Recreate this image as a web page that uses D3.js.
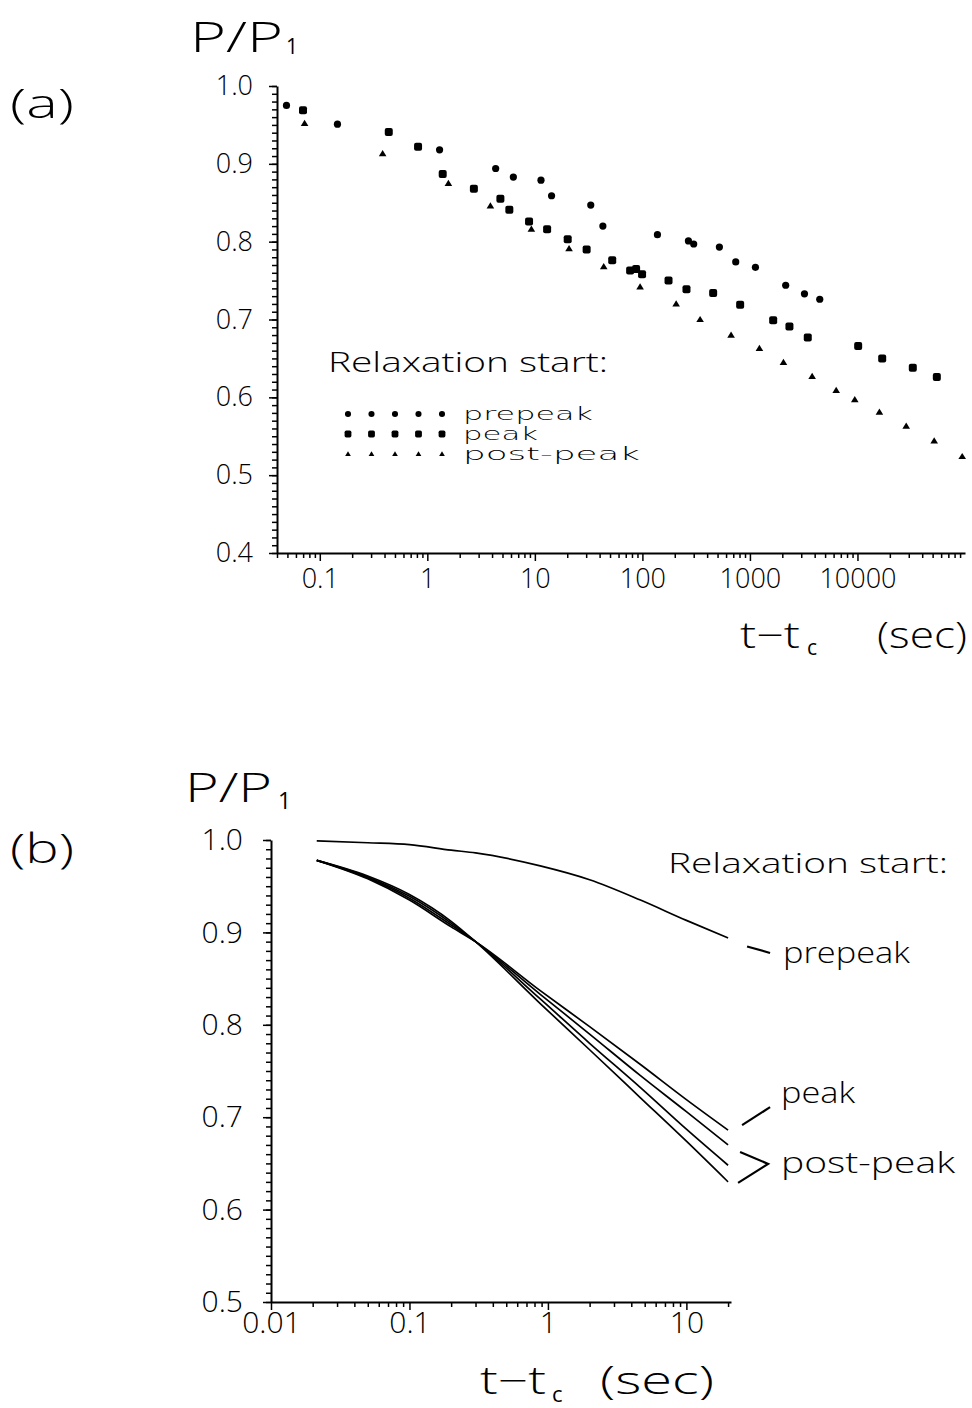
<!DOCTYPE html>
<html>
<head>
<meta charset="utf-8">
<script src="https://cdn.jsdelivr.net/npm/d3@7"></script>
<style>
  body { margin: 0; background: #fff; }
  svg text { font-family: "Open Sans", "DejaVu Sans", sans-serif; font-weight: 300; fill: #000; }
  svg text.sub { font-weight: 400; }
  svg text.legend { font-family: "DejaVu Sans", sans-serif; font-weight: 200; }
</style>
</head>
<body>
<svg id="fig" width="972" height="1408"></svg>
<script>
// ---------- Panel (a): measured stress relaxation, P/P1 vs t - tc (s) ----------
const prepeakTimeA = [0.049, 0.146, 1.30, 4.32, 6.31, 11.4, 14.3, 33.1, 42.9, 138, 268, 300, 520, 738, 1125, 2150, 3215, 4460];
const prepeakRatioA = [0.975, 0.951, 0.918, 0.894, 0.883, 0.879, 0.859, 0.847, 0.820, 0.809, 0.801, 0.797, 0.793, 0.774, 0.767, 0.744, 0.733, 0.726];

const peakTimeA = [0.0698, 0.438, 0.82, 1.39, 2.71, 4.78, 5.79, 8.83, 13.0, 20.2, 30.3, 52.4, 76.9, 87.4, 99.3, 175, 257, 455, 811, 1645, 2330, 3450, 10150, 16980, 32700, 54700];
const peakRatioA = [0.969, 0.941, 0.922, 0.887, 0.868, 0.855, 0.841, 0.826, 0.816, 0.803, 0.790, 0.776, 0.763, 0.765, 0.758, 0.750, 0.739, 0.734, 0.719, 0.699, 0.691, 0.677, 0.666, 0.650, 0.638, 0.626];

const postPeakTimeA = [0.0722, 0.384, 1.57, 3.86, 9.28, 20.8, 43.7, 95.2, 206, 344, 668, 1225, 2050, 3790, 6340, 9440, 16000, 28400, 51700, 94200];
const postPeakRatioA = [0.952, 0.913, 0.875, 0.846, 0.816, 0.791, 0.768, 0.742, 0.720, 0.700, 0.680, 0.663, 0.645, 0.627, 0.609, 0.597, 0.581, 0.563, 0.544, 0.524];

const xTicksA = [0.1, 1, 10, 100, 1000, 10000];
const xTickLabelsA = ["0.1", "1", "10", "100", "1000", "10000"];
const yTicksA = [0.4, 0.5, 0.6, 0.7, 0.8, 0.9, 1.0];
const yTickLabelsA = ["0.4", "0.5", "0.6", "0.7", "0.8", "0.9", "1.0"];

// ---------- Panel (b): model relaxation curves ----------
const modelTime = [0.0214, 0.05, 0.1, 0.2, 0.3, 0.88, 2.0, 4.66, 10, 20];
const modelPrepeak = [0.999, 0.997, 0.995, 0.989, 0.986, 0.972, 0.957, 0.935, 0.913, 0.894];
const modelPeak  = [0.978, 0.958, 0.935, 0.906, 0.890, 0.837, 0.798, 0.757, 0.719, 0.686];
const modelPost1 = [0.978, 0.959, 0.937, 0.908, 0.890, 0.833, 0.790, 0.745, 0.706, 0.670];
const modelPost2 = [0.978, 0.960, 0.939, 0.910, 0.890, 0.828, 0.780, 0.732, 0.687, 0.648];
const modelPost3 = [0.978, 0.961, 0.941, 0.912, 0.890, 0.823, 0.773, 0.721, 0.674, 0.630];

const xTicksB = [0.01, 0.1, 1, 10];
const xTickLabelsB = ["0.01", "0.1", "1", "10"];
const yTicksB = [0.5, 0.6, 0.7, 0.8, 0.9, 1.0];
const yTickLabelsB = ["0.5", "0.6", "0.7", "0.8", "0.9", "1.0"];

const legendNames = ["prepeak", "peak", "post-peak"];

// ---------- helpers ----------
const svg = d3.select("#fig");

function logMinorTicks(domain) {
  const out = [];
  const e0 = Math.floor(Math.log10(domain[0])), e1 = Math.ceil(Math.log10(domain[1]));
  for (let e = e0; e <= e1; e++) {
    for (let m = 2; m <= 9; m++) {
      const v = m * Math.pow(10, e);
      if (v >= domain[0] && v <= domain[1]) out.push(v);
    }
  }
  return out;
}

function styleAxis(g, fontSize) {
  g.attr("font-family", null).attr("font-size", null);
  g.selectAll(".domain").attr("stroke", "#000").attr("stroke-width", 2);
  g.selectAll(".tick line").attr("stroke", "#000").attr("stroke-width", 1.5);
  g.selectAll(".tick text").style("font-size", fontSize + "px").attr("fill", "#000");
}

function drawAxes(x, y, xt, xl, yt, yl, o) {
  const y0 = y.range()[0];
  const x0 = x.range()[0];
  // minor ticks (log decades on x, hundredths on y)
  const gxm = svg.append("g").attr("transform", `translate(0,${y0})`)
    .call(d3.axisBottom(x).tickValues(logMinorTicks(x.domain())).tickSize(5).tickFormat(""));
  gxm.select(".domain").remove();
  styleAxis(gxm, o.font);
  const yMinor = d3.range(Math.round(y.domain()[0] * 100), Math.round(y.domain()[1] * 100) + 1).map(v => v / 100);
  const gym = svg.append("g").attr("transform", `translate(${x0},0)`)
    .call(d3.axisLeft(y).tickValues(yMinor).tickSize(5).tickFormat(""));
  gym.select(".domain").remove();
  styleAxis(gym, o.font);
  // major ticks with labels
  const gx = svg.append("g").attr("transform", `translate(0,${y0})`)
    .call(d3.axisBottom(x).tickValues(xt).tickSize(8).tickSizeOuter(0)
      .tickPadding(o.xPad).tickFormat((d, i) => xl[i]));
  styleAxis(gx, o.font);
  const gy = svg.append("g").attr("transform", `translate(${x0},0)`)
    .call(d3.axisLeft(y).tickValues(yt).tickSize(8).tickSizeOuter(0)
      .tickPadding(o.yPad).tickFormat((d, i) => yl[i]));
  styleAxis(gy, o.font);
}

function label(x, y, str, size, width, cls) {
  const t = svg.append("text").attr("x", x).attr("y", y).text(str).style("font-size", size + "px");
  if (width) t.attr("textLength", width).attr("lengthAdjust", "spacingAndGlyphs");
  if (cls) t.attr("class", cls);
  return t;
}

// marker shapes for the three relaxation starts
const markers = {
  prepeak: (g, cx, cy, s) => g.append("circle").attr("cx", cx).attr("cy", cy).attr("r", 3.6 * s),
  peak: (g, cx, cy, s) => g.append("rect").attr("x", cx - 4 * s).attr("y", cy - 4 * s)
    .attr("width", 8 * s).attr("height", 8 * s).attr("rx", 2 * s),
  "post-peak": (g, cx, cy, s) => g.append("path")
    .attr("d", `M${cx},${cy - 3.6 * s}L${cx + 3.8 * s},${cy + 2.6 * s}L${cx - 3.8 * s},${cy + 2.6 * s}Z`)
};

// ================= Panel (a) =================
const xA = d3.scaleLog().domain([0.04, 1e5]).range([277, 965]);
const yA = d3.scaleLinear().domain([0.4, 1.0]).range([553, 86]);

drawAxes(xA, yA, xTicksA, xTickLabelsA, yTicksA, yTickLabelsA, { font: 27, xPad: 8, yPad: 16 });

const seriesA = [
  { name: "prepeak", t: prepeakTimeA, p: prepeakRatioA },
  { name: "peak", t: peakTimeA, p: peakRatioA },
  { name: "post-peak", t: postPeakTimeA, p: postPeakRatioA }
];
const gPts = svg.append("g").attr("fill", "#000");
seriesA.forEach(s => {
  s.t.forEach((t, i) => markers[s.name](gPts, xA(t), yA(s.p[i]), 1));
});

// legend rows: five markers and the series name
label(328, 372, "Relaxation start:", 27, 280);
const legendWidths = [130, 75, 177];
legendNames.forEach((n, k) => {
  const cy = 414 + k * 20;
  for (let i = 0; i < 5; i++) markers[n](gPts, 348 + i * 23.5, cy, n === "post-peak" ? 0.75 : 0.85);
  label(463, cy + 6, n, 17, legendWidths[k], "legend");
});

label(10, 118, "(a)", 40, 64);
label(190, 52, "P/P", 42, 93);
label(286, 54, "1", 21, null, "sub");
label(740, 648, "t\u2212t", 36, 60);
label(807, 655, "c", 21, null, "sub");
label(877, 648, "(sec)", 36, 90);

// ================= Panel (b) =================
const xB = d3.scaleLog().domain([0.01, 21]).range([271, 731]);
const yB = d3.scaleLinear().domain([0.5, 1.0]).range([1302, 840]);

drawAxes(xB, yB, xTicksB, xTickLabelsB, yTicksB, yTickLabelsB, { font: 30, xPad: 2, yPad: 20 });

const line = d3.line().x((d, i) => xB(modelTime[i])).y(d => yB(d)).curve(d3.curveMonotoneX);
const gCurves = svg.append("g").attr("fill", "none").attr("stroke", "#000").attr("stroke-width", 1.7);
[modelPrepeak, modelPeak, modelPost1, modelPost2, modelPost3].forEach(c => gCurves.append("path").attr("d", line(c)));

// curve labels with leaders
const tEnd = modelTime[modelTime.length - 1];
const xe = xB(tEnd);
const lead = svg.append("g").attr("fill", "none").attr("stroke", "#000").attr("stroke-width", 2.2);
const yPre = yB(modelPrepeak[modelPrepeak.length - 1]);
lead.append("path").attr("d", `M${xe + 19},${yPre + 8.5}L${xe + 42},${yPre + 15}`);
const yPk = yB(modelPeak[modelPeak.length - 1]);
lead.append("path").attr("d", `M${xe + 14},${yPk - 5}L${xe + 42},${yPk - 23}`);
const yP1 = yB(modelPost1[modelPost1.length - 1]);
const yP3 = yB(modelPost3[modelPost3.length - 1]);
lead.append("path").attr("d", `M${xe + 12},${yP1 + 7}L${xe + 40},${(yP1 + yP3) / 2 + 0.5}L${xe + 10},${yP3 + 1}`);

label(668, 873, "Relaxation start:", 27, 280);
label(783, 963, "prepeak", 30, 127);
label(781, 1103, "peak", 30, 74);
label(781, 1173, "post-peak", 30, 174);

label(10, 863, "(b)", 40, 64);
label(185, 802, "P/P", 40, 87);
label(278, 809, "1", 23, null, "sub");
label(480, 1394, "t\u2212t", 38, 66);
label(552, 1402, "c", 22, null, "sub");
label(600, 1394, "(sec)", 38, 114);
</script>
</body>
</html>
